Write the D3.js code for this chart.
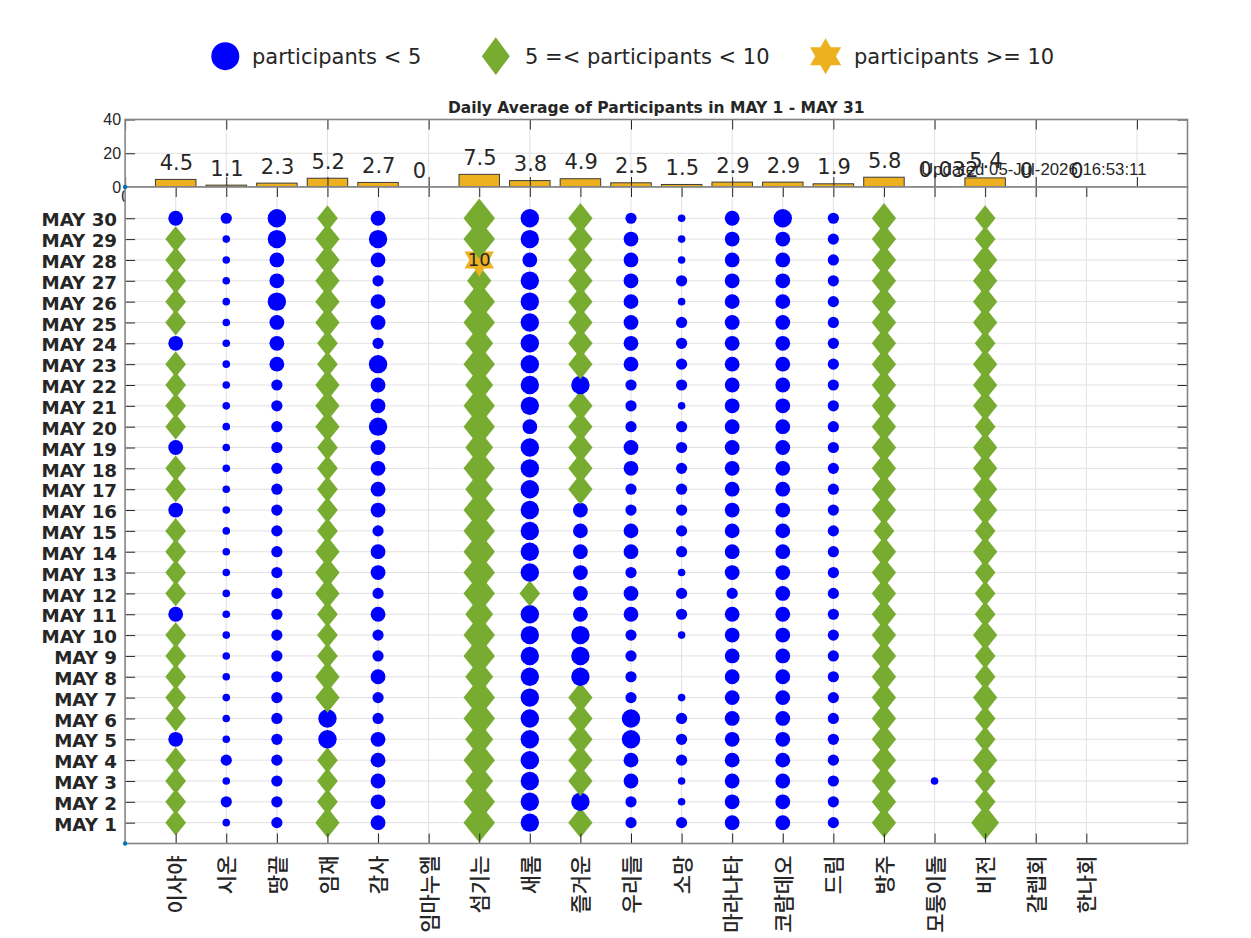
<!DOCTYPE html>
<html><head><meta charset="utf-8">
<script src="https://cdn.jsdelivr.net/npm/d3@7/dist/d3.min.js"></script>
<style>body{margin:0;background:#fff}svg{display:block}</style>
</head><body><svg id="chart" width="1251" height="938"></svg>
<script>
// ---------- DATA ----------
const groups = ["이사야","시온","땅끝","임재","감사","임마누엘","섬기는","새롬","즐거운","우리들","소망","마라나타","코람데오","드림","방주","모퉁이돌","비전","갈렙회","한나회"];
const days = [1,2,3,4,5,6,7,8,9,10,11,12,13,14,15,16,17,18,19,20,21,22,23,24,25,26,27,28,29,30];
const dailyAverage = [4.5,1.1,2.3,5.2,2.7,0,7.5,3.8,4.9,2.5,1.5,2.9,2.9,1.9,5.8,0.032,5.4,0,0];
const barTicks = [0,20,40];
const legendLabels = ["participants < 5","5 =< participants < 10","participants >= 10"];
const titleText = "Daily Average of Participants in MAY 1 - MAY 31";
const updatedText = "Updated 05-Jul-2026 16:53:11";

// participants per day (MAY 1 ... MAY 30) for each group
const isaiah     = [5,5,5,5,3,5,5,5,5,5,3,5,5,5,5,3,5,5,3,5,5,5,5,3,5,5,5,5,5,3];
const zion       = [1,2,1,2,1,1,1,1,1,1,1,1,1,1,1,1,1,1,1,1,1,1,1,1,1,1,1,1,1,2];
const ttangkkeut = [2,2,2,2,2,2,2,2,2,2,2,2,2,2,2,2,2,2,2,2,2,2,3,3,3,4,3,3,4,4];
const imjae      = [6,5,5,5,4,4,6,6,5,5,5,6,6,6,5,5,5,5,5,6,6,6,5,5,6,6,6,6,6,5];
const gamsa      = [3,3,3,3,3,2,2,3,2,2,3,2,3,3,2,3,3,3,3,4,3,3,4,2,3,3,2,3,4,3];
const immanuel   = [0,0,0,0,0,0,0,0,0,0,0,0,0,0,0,0,0,0,0,0,0,0,0,0,0,0,0,0,0,0];
const seomgineun = [8,8,7,8,7,8,8,7,8,8,7,8,8,8,8,8,7,8,7,8,8,7,8,7,8,8,6,10,8,8];
const saerom     = [4,4,4,4,4,4,4,4,4,4,4,5,4,4,4,4,4,4,4,3,4,4,4,4,4,4,4,3,4,4];
const jeulgeoun  = [6,4,6,6,6,6,6,4,4,4,3,3,3,3,3,3,6,6,6,6,6,4,6,6,6,6,6,6,6,6];
const uridul     = [2,2,3,3,4,4,2,2,2,2,3,3,2,3,3,2,2,3,3,2,2,2,3,3,3,3,3,3,3,2];
const somang     = [2,1,1,2,2,2,1,0,0,1,2,2,1,2,2,2,2,2,2,2,1,2,2,2,2,1,2,1,1,1];
const maranatha  = [3,3,3,3,3,3,3,3,3,3,3,2,3,3,3,3,3,3,3,3,3,3,3,3,3,3,3,3,3,3];
const coramdeo   = [3,3,3,3,3,3,3,3,3,3,3,3,3,3,3,3,3,3,3,3,3,3,3,3,3,3,3,3,3,4];
const dream      = [2,2,2,2,2,2,2,2,2,2,2,2,2,2,2,2,2,2,2,2,2,2,2,2,2,2,2,2,2,2];
const bangju     = [6,6,6,6,6,6,6,6,6,6,6,6,6,6,5,6,6,6,6,6,6,6,6,6,6,6,6,6,6,6];
const cornerstone= [0,0,1,0,0,0,0,0,0,0,0,0,0,0,0,0,0,0,0,0,0,0,0,0,0,0,0,0,0,0];
const vision     = [7,5,5,6,5,5,6,5,5,6,5,5,5,6,5,6,6,6,6,5,6,6,6,5,6,6,6,6,5,5];
const caleb      = [0,0,0,0,0,0,0,0,0,0,0,0,0,0,0,0,0,0,0,0,0,0,0,0,0,0,0,0,0,0];
const hannah     = [0,0,0,0,0,0,0,0,0,0,0,0,0,0,0,0,0,0,0,0,0,0,0,0,0,0,0,0,0,0];
const counts = [isaiah,zion,ttangkkeut,imjae,gamsa,immanuel,seomgineun,saerom,jeulgeoun,uridul,somang,maranatha,coramdeo,dream,bangju,cornerstone,vision,caleb,hannah];

// ---------- STYLE ----------
const C_BLUE = "#0000ff", C_GREEN = "#77ac30", C_GOLD = "#edb120";
const TXT = "#262626", BOX = "#858585", GRID = "#e1e1e1";
const F_WIDE = "'DejaVu Sans', sans-serif";
const F_ARIAL = "'Liberation Sans', Arial, sans-serif";
const F_KR = "'Noto Sans CJK KR', sans-serif";

const svg = d3.select("#chart");
svg.append("rect").attr("width",1251).attr("height",938).attr("fill","#fff");

const L = 125.1, R = 1187.5;
const xs = d3.scaleLinear().domain([0,21]).range([L,R]);
const ys = d3.scaleLinear().domain([0,31.5]).range([843.5,187]);
const yb = d3.scaleLinear().domain([0,40]).range([187,119.5]);
const markerSize = d3.scaleLinear().domain([0,10]).range([4,40]);

function diamondPath(w,h){return `M0,${-h/2}L${w/2},0L0,${h/2}L${-w/2},0Z`;}
function hexagramPath(r){
  const c = Math.cos(Math.PI/6)*r, s = r/2;
  return `M0,${-r}L${c},${s}L${-c},${s}Z M0,${r}L${-c},${-s}L${c},${-s}Z`;
}

// ---------- LEGEND ----------
const leg = svg.append("g");
const legY = 56.2;
leg.append("circle").attr("cx",225.3).attr("cy",legY).attr("r",14).attr("fill",C_BLUE);
leg.append("path").attr("d",diamondPath(28,37.7)).attr("transform",`translate(495.8,${legY})`).attr("fill",C_GREEN);
leg.append("path").attr("d",hexagramPath(18)).attr("transform",`translate(825.6,${legY})`).attr("fill",C_GOLD);
const legTextX = [252,525,854];
legendLabels.forEach((t,i)=>{
  leg.append("text").attr("x",legTextX[i]).attr("y",63.5).text(t)
    .attr("font-family",F_WIDE).attr("font-size",21).attr("fill",TXT);
});

// ---------- BAR AXES ----------
const bar = svg.append("g");
bar.append("rect").attr("x",L).attr("y",yb(40)).attr("width",R-L).attr("height",yb(0)-yb(40)).attr("fill","#fff");
const barXTicks = [0,2,4,6,8,10,12,14,16,18,20];
bar.selectAll("line.vg").data(barXTicks.slice(1)).join("line")
  .attr("x1",d=>xs(d)).attr("x2",d=>xs(d)).attr("y1",yb(40)).attr("y2",yb(0))
  .attr("stroke",GRID).attr("stroke-width",1);
bar.append("line").attr("x1",L).attr("x2",R).attr("y1",yb(20)).attr("y2",yb(20)).attr("stroke",GRID);

bar.selectAll("rect.b").data(dailyAverage).join("rect").attr("class","b")
  .attr("x",(d,i)=>xs(i+1-0.4)).attr("width",xs(0.8)-xs(0))
  .attr("y",d=>yb(d)).attr("height",d=>yb(0)-yb(d))
  .attr("fill",C_GOLD).attr("stroke","#3b3b3b").attr("stroke-width",1);

function styleAxis(g, fs, ff){
  g.select(".domain").remove();
  g.selectAll(".tick line").attr("stroke",TXT).attr("stroke-width",1);
  g.selectAll(".tick text").attr("fill",TXT).attr("font-size",fs).attr("font-family",ff);
}
const bxB = bar.append("g").attr("transform",`translate(0,${yb(0)})`)
  .call(d3.axisBottom(xs).tickValues(barXTicks).tickSize(-10).tickPadding(4).tickFormat(d3.format("d")));
styleAxis(bxB,16,F_ARIAL);
const bxT = bar.append("g").attr("transform",`translate(0,${yb(40)})`)
  .call(d3.axisTop(xs).tickValues(barXTicks).tickSize(-10).tickFormat(""));
styleAxis(bxT,16,F_ARIAL);
const byL = bar.append("g").attr("transform",`translate(${L},0)`)
  .call(d3.axisLeft(yb).tickValues(barTicks).tickSize(-10).tickPadding(4));
styleAxis(byL,16,F_ARIAL);
const byR = bar.append("g").attr("transform",`translate(${R},0)`)
  .call(d3.axisRight(yb).tickValues(barTicks).tickSize(-10).tickFormat(""));
styleAxis(byR,16,F_ARIAL);
bar.append("rect").attr("x",L).attr("y",yb(40)).attr("width",R-L).attr("height",yb(0)-yb(40))
  .attr("fill","none").attr("stroke",BOX).attr("stroke-width",1.6);
bar.append("text").attr("x",(L+R)/2).attr("y",113.3).attr("text-anchor","middle").text(titleText)
  .attr("font-family",F_WIDE).attr("font-weight","bold").attr("font-size",15.5).attr("fill",TXT);

// ---------- MAIN AXES ----------
const main = svg.append("g");
main.append("rect").attr("x",L).attr("y",ys(31.5)).attr("width",R-L).attr("height",ys(0)-ys(31.5)).attr("fill","#fff");
main.selectAll("line.gx").data(groups).join("line")
  .attr("x1",(d,i)=>xs(i+1)).attr("x2",(d,i)=>xs(i+1)).attr("y1",ys(31.5)).attr("y2",ys(0))
  .attr("stroke",GRID);
main.selectAll("line.gy").data(days).join("line")
  .attr("y1",d=>ys(d)).attr("y2",d=>ys(d)).attr("x1",L).attr("x2",R).attr("stroke",GRID);

// markers, drawn day by day
const pts = [];
days.forEach((day,di)=>{
  groups.forEach((grp,gi)=>{
    const v = counts[gi][di];
    if (v > 0) pts.push({day, gi, v});
  });
});
const mk = main.append("g");
pts.forEach(p=>{
  const cx = xs(p.gi+1), cy = ys(p.day), s = markerSize(p.v);
  if (p.v < 5) {
    mk.append("circle").attr("cx",cx).attr("cy",cy).attr("r",s/2).attr("fill",C_BLUE);
  } else if (p.v < 10) {
    const w = s - 1.3;
    mk.append("path").attr("d",diamondPath(w,w*1.25)).attr("transform",`translate(${cx},${cy})`).attr("fill",C_GREEN);
  } else {
    mk.append("path").attr("d",hexagramPath(s*0.425)).attr("transform",`translate(${cx},${cy})`).attr("fill",C_GOLD);
  }
});
pts.filter(p=>p.v>=10).forEach(p=>{
  main.append("text").attr("x",xs(p.gi+1)).attr("y",ys(p.day)+6.5).attr("text-anchor","middle")
    .text(p.v).attr("font-family",F_WIDE).attr("font-size",18).attr("fill",TXT);
});

const mxB = main.append("g").attr("transform",`translate(0,${ys(0)})`)
  .call(d3.axisBottom(xs).tickValues(groups.map((g,i)=>i+1)).tickSize(-10).tickFormat(i=>groups[i-1]));
styleAxis(mxB,21,F_KR);
mxB.selectAll(".tick text").attr("transform","rotate(-90)").attr("x",-12).attr("y",0)
  .attr("dy","0.36em").attr("text-anchor","end").attr("font-weight",500);
const mxT = main.append("g").attr("transform",`translate(0,${ys(31.5)})`)
  .call(d3.axisTop(xs).tickValues(groups.map((g,i)=>i+1)).tickSize(-10).tickFormat(""));
styleAxis(mxT,12,F_ARIAL);
const myL = main.append("g").attr("transform",`translate(${L},0)`)
  .call(d3.axisLeft(ys).tickValues(days).tickSize(-10).tickPadding(8).tickFormat(d=>"MAY " + d));
styleAxis(myL,18.3,F_WIDE);
myL.selectAll(".tick text").attr("font-weight","bold").attr("dy","0.42em");
const myR = main.append("g").attr("transform",`translate(${R},0)`)
  .call(d3.axisRight(ys).tickValues(days).tickSize(-10).tickFormat(""));
styleAxis(myR,12,F_ARIAL);
main.append("rect").attr("x",L).attr("y",ys(31.5)).attr("width",R-L).attr("height",ys(0)-ys(31.5))
  .attr("fill","none").attr("stroke",BOX).attr("stroke-width",1.6);

// origin dots
svg.append("circle").attr("cx",xs(0)).attr("cy",yb(0)).attr("r",2.2).attr("fill","#0072bd");
svg.append("circle").attr("cx",xs(0)).attr("cy",ys(0)).attr("r",2.2).attr("fill","#0072bd");

// bar value labels + update stamp
const lab = svg.append("g");
lab.selectAll("text").data(dailyAverage).join("text")
  .attr("x",(d,i)=>xs(i+1)-16).attr("y",d=>yb(d)-9.5).text(d=>String(d))
  .attr("font-family",F_WIDE).attr("font-size",21).attr("fill",TXT);
svg.append("text").attr("x",921).attr("y",175).text(updatedText)
  .attr("font-family",F_ARIAL).attr("font-size",16.8).attr("fill",TXT);
</script></body></html>
